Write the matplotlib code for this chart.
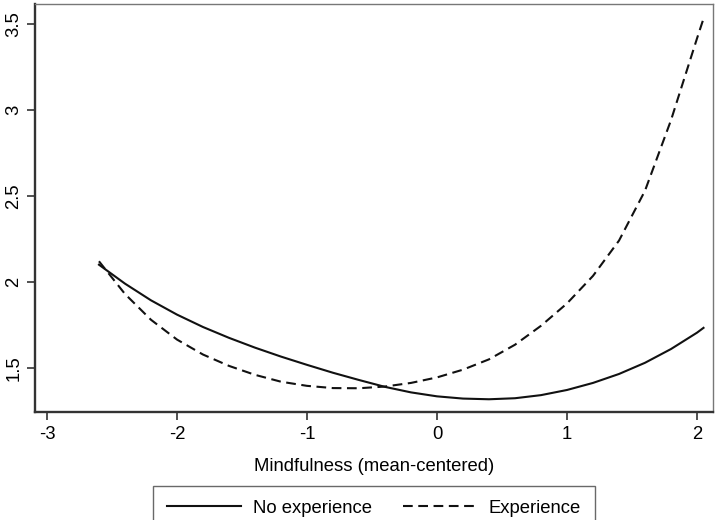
import matplotlib
matplotlib.use("Agg")
import matplotlib.pyplot as plt

plt.rcParams['font.family'] = ['Liberation Sans', 'DejaVu Sans']
plt.rcParams['lines.scale_dashes'] = False

# values
mind = [-2.6, -2.4, -2.2, -2.0, -1.8, -1.6, -1.4, -1.2, -1.0, -0.8, -0.6, -0.4,
        -0.2, 0.0, 0.2, 0.4, 0.6, 0.8, 1.0, 1.2, 1.4, 1.6, 1.8, 2.0, 2.05]
no_exp = [2.10, 1.99, 1.893, 1.81, 1.738, 1.675, 1.618, 1.566, 1.518, 1.472, 1.43, 1.39,
          1.358, 1.335, 1.322, 1.318, 1.324, 1.342, 1.372, 1.413, 1.465, 1.53, 1.61, 1.705, 1.733]
exp_ = [2.12, 1.93, 1.78, 1.665, 1.578, 1.512, 1.46, 1.42, 1.396, 1.383, 1.382, 1.392,
        1.413, 1.445, 1.49, 1.55, 1.635, 1.745, 1.875, 2.035, 2.24, 2.53, 2.94, 3.415, 3.53]

xticks = [-3, -2, -1, 0, 1, 2]
yticks = [1.5, 2, 2.5, 3, 3.5]

fig = plt.figure(figsize=(7.15, 5.2), dpi=100)
ax = fig.add_axes([35/715, 1-412/520, (713-35)/715, (412-4)/520])

ax.plot(mind, no_exp, color='#111111', lw=1.5, label='No experience')
ax.plot(mind, exp_, color='#111111', lw=1.5, dashes=(7, 4), label='Experience')

ax.set_xlim(-3.092, 2.123)
ax.set_ylim(1.244, 3.615)
ax.set_xticks(xticks)
ax.set_xticklabels([str(t) for t in xticks])
ax.set_yticks(yticks)
ax.set_yticklabels(['1.5', '2', '2.5', '3', '3.5'])
plt.setp(ax.get_yticklabels(), rotation=90, va='center')

for s in ['left', 'bottom']:
    ax.spines[s].set_linewidth(1.7)
    ax.spines[s].set_color('#333333')
for s in ['top', 'right']:
    ax.spines[s].set_linewidth(1.0)
    ax.spines[s].set_color('#777777')

ax.tick_params(direction='out', length=6, width=1.2, color='#333333', labelsize=13.3)
ax.tick_params(axis='x', pad=4)
ax.tick_params(axis='y', pad=3)

ax.set_xlabel('Mindfulness (mean-centered)', fontsize=13.3, labelpad=11)

leg = fig.legend(loc='upper center', bbox_to_anchor=(374/715, 1-486/520), ncol=2,
                 fontsize=13.3, frameon=True, fancybox=False, edgecolor='#444444',
                 handlelength=4, handletextpad=0.65, columnspacing=1.7,
                 borderpad=0.75, borderaxespad=0)
leg.get_frame().set_linewidth(1.0)

fig.savefig('out.png', dpi=100)
